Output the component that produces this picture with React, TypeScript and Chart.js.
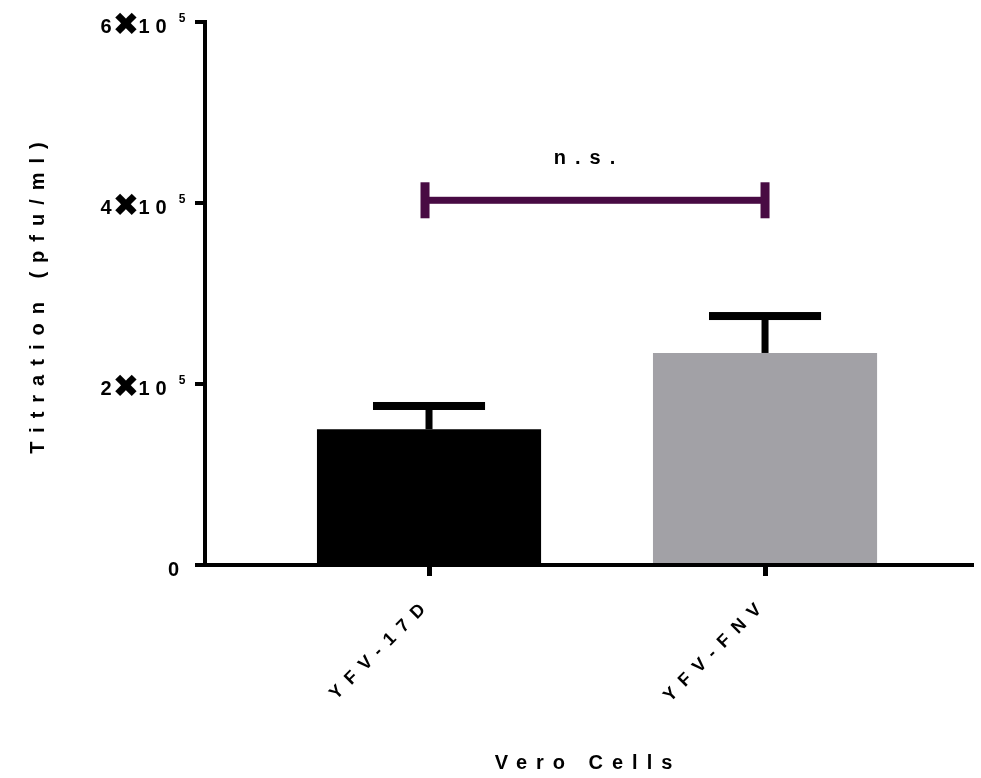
import React, { useEffect, useRef } from 'react';
import { Chart, registerables } from 'chart.js';

Chart.register(...registerables);

// ---- data ----
const categories = ['YFV-17D', 'YFV-FNV'];
const means = [150000, 234300];
const sems = [25700, 40800];
const barColors = ['#000000', '#a2a1a6'];
const yTickValues = [0, 200000, 400000, 600000];
const sigLabel = 'n.s.';
const sigLevel = 403000;
const xTitle = 'Vero Cells';
const yTitle = 'Titration (pfu/ml)';

const FAMILY = '"Liberation Sans", Arial, Helvetica, sans-serif';
const SPACING = '9px';

const spacingPlugin = {
  id: 'letterSpacing',
  beforeLayout(chart: any) {
    chart.ctx.letterSpacing = SPACING;
  },
  beforeDraw(chart: any) {
    chart.ctx.letterSpacing = SPACING;
  },
};

const errorBarPlugin = {
  id: 'errorBars',
  afterDatasetsDraw(chart: any) {
    const ctx = chart.ctx;
    const ys = chart.scales.y;
    const meta = chart.getDatasetMeta(0);
    ctx.save();
    ctx.fillStyle = '#000';
    meta.data.forEach((bar: any, i: number) => {
      const top = ys.getPixelForValue(means[i] + sems[i]);
      const base = ys.getPixelForValue(means[i]);
      const capW = bar.width / 2;
      ctx.fillRect(bar.x - 3.5, top, 7, base - top);
      ctx.fillRect(bar.x - capW / 2, top - 4, capW, 8);
    });
    ctx.restore();
  },
};

const bracketPlugin = {
  id: 'bracket',
  afterDatasetsDraw(chart: any) {
    const ctx = chart.ctx;
    const xs = chart.scales.x;
    const ys = chart.scales.y;
    const x0 = xs.getPixelForValue(0) - 4;
    const x1 = xs.getPixelForValue(1);
    const yb = ys.getPixelForValue(sigLevel);
    ctx.save();
    ctx.fillStyle = '#480b43';
    ctx.fillRect(x0, yb - 3.5, x1 - x0, 7);
    ctx.fillRect(x0 - 4.5, yb - 18, 9, 36);
    ctx.fillRect(x1 - 4.5, yb - 18, 9, 36);
    ctx.fillStyle = '#000';
    ctx.font = `bold 20px ${FAMILY}`;
    ctx.letterSpacing = SPACING;
    ctx.textAlign = 'center';
    ctx.textBaseline = 'middle';
    ctx.fillText(sigLabel, (x0 + x1) / 2 - 6, yb - 42);
    ctx.restore();
  },
};

const yLabelPlugin = {
  id: 'yLabels',
  afterDraw(chart: any) {
    const ctx = chart.ctx;
    const ys = chart.scales.y;
    const L = chart.chartArea.left;
    ctx.save();
    ctx.letterSpacing = '0px';
    ctx.fillStyle = '#000';
    ctx.textBaseline = 'middle';
    yTickValues.forEach((v) => {
      const py = ys.getPixelForValue(v) + 5;
      if (v === 0) {
        ctx.font = `bold 20px ${FAMILY}`;
        ctx.textAlign = 'right';
        ctx.fillText('0', L - 26, py);
        return;
      }
      const m = String(Math.round(v / 100000));
      ctx.textAlign = 'center';
      ctx.font = `bold 20px ${FAMILY}`;
      ctx.fillText(m, L - 99, py);
      ctx.fillText('1', L - 61, py);
      ctx.fillText('0', L - 44, py);
      ctx.font = `bold 32px "DejaVu Sans"`;
      ctx.fillText('\u2716', L - 79, py);
      ctx.font = `bold 12px ${FAMILY}`;
      ctx.fillText('5', L - 23, py - 8);
    });
    ctx.restore();
  },
};

export default function App() {
  const ref = useRef<HTMLCanvasElement | null>(null);

  useEffect(() => {
    const canvas = ref.current;
    if (!canvas) return;
    const font = { family: FAMILY, size: 20, weight: 'bold' as const };
    const chart = new Chart(canvas, {
      type: 'bar',
      data: {
        datasets: [
          {
            data: means.map((v, i) => ({ x: i, y: v })) as any,
            backgroundColor: barColors,
            borderWidth: 0,
            barPercentage: 0.667,
            categoryPercentage: 1,
          },
        ],
      },
      options: {
        animation: false,
        responsive: false,
        devicePixelRatio: 1,
        layout: { padding: { top: 22, right: 10, left: 0, bottom: 0 } },
        plugins: {
          legend: { display: false },
          tooltip: { enabled: false },
        },
        scales: {
          x: {
            type: 'linear',
            offset: false,
            min: -0.6667,
            max: 1.613,
            afterBuildTicks: (s: any) => {
              s.ticks = categories.map((_, i) => ({ value: i }));
            },
            afterFit: (s: any) => {
              s.height = 213;
            },
            ticks: {
              callback: (_v: any, i: number) => categories[i],
              minRotation: 45,
              maxRotation: 45,
              autoSkip: false,
              font: { family: FAMILY, size: 18, weight: 'bold' },
              color: '#000',
              padding: 17,
            },
            grid: {
              offset: false,
              drawOnChartArea: false,
              color: '#000',
              lineWidth: 5,
              tickLength: 11,
            },
            border: { color: '#000', width: 4 },
            title: {
              display: true,
              text: xTitle,
              font,
              color: '#000',
              padding: { top: 0, bottom: 3 },
            },
          },
          y: {
            min: 0,
            max: 600000,
            afterBuildTicks: (s: any) => {
              s.ticks = yTickValues.map((v) => ({ value: v }));
            },
            afterFit: (s: any) => {
              s.width = 205;
            },
            ticks: { display: false },
            grid: {
              drawOnChartArea: false,
              color: '#000',
              lineWidth: 4,
              tickLength: 10,
            },
            border: { color: '#000', width: 4 },
            title: {
              display: true,
              text: yTitle,
              font,
              color: '#000',
              padding: { top: 26, bottom: 0 },
            },
          },
        },
      } as any,
      plugins: [spacingPlugin, errorBarPlugin, bracketPlugin, yLabelPlugin],
    });
    return () => chart.destroy();
  }, []);

  return (
    <div style={{ position: 'absolute', left: 0, top: 0, width: 981, height: 778, background: '#fff' }}>
      <canvas ref={ref} width={981} height={778} style={{ display: 'block' }} />
    </div>
  );
}
